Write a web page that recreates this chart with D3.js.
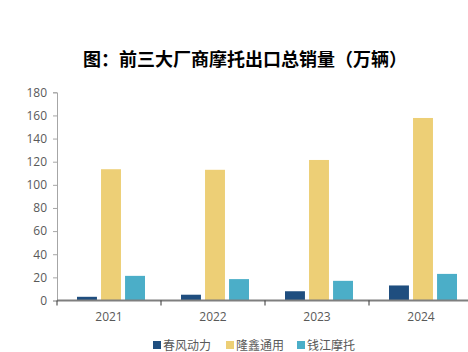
<!DOCTYPE html>
<html lang="zh">
<head>
    <meta charset="UTF-8">
    <title>前三大厂商摩托出口总销量</title>
    <script src="https://d3js.org/d3.v7.min.js"></script>
    <style>
        body { margin: 0; background: #fff; }
        text { font-family: "Noto Sans CJK SC", "Open Sans", sans-serif; }
        .title { font-size: 18px; font-weight: bold; text-anchor: middle; fill: #000; }
        .tick text { font-size: 12px; fill: #595959; font-family: "Open Sans", "Noto Sans", sans-serif; }
        .legend-label { font-size: 12px; fill: #595959; }
    </style>
</head>
<body>
<script>
    const years = ["2021", "2022", "2023", "2024"];
    const seriesNames = ["春风动力", "隆鑫通用", "钱江摩托"];
    const chunfeng = [3.2, 5, 8, 13];
    const longxin = [113.5, 113, 121.5, 157.8];
    const qianjiang = [21.3, 18.5, 17, 23];
    const yTicks = [0, 20, 40, 60, 80, 100, 120, 140, 160, 180];
    const colors = ["#1f4e7f", "#edcf76", "#4baec8"];

    const width = 468, height = 352;
    const svg = d3.select("body").append("svg")
        .attr("width", width)
        .attr("height", height);

    svg.append("text")
        .attr("class", "title")
        .attr("x", 245)
        .attr("y", 66)
        .text("图：前三大厂商摩托出口总销量（万辆）");

    const data = years.map((y, i) => ({
        year: y,
        values: [chunfeng[i], longxin[i], qianjiang[i]]
    }));

    const x = d3.scaleBand().domain(years).range([57, 473]);
    const xInner = d3.scaleBand().domain(d3.range(3)).range([20, 88]).paddingInner(0.17);
    const y = d3.scaleLinear().domain([0, 180]).range([300.5, 92.3]);

    // y axis
    const yAxis = svg.append("g")
        .attr("transform", "translate(57,0)")
        .call(d3.axisLeft(y).tickValues(yTicks).tickSize(4).tickPadding(6));
    yAxis.select(".domain").attr("stroke", "#a6a6a6");
    yAxis.selectAll(".tick line").attr("stroke", "#a6a6a6");

    // bars
    const groups = svg.selectAll(".grp")
        .data(data)
        .join("g")
        .attr("class", "grp")
        .attr("transform", d => "translate(" + x(d.year) + ",0)");

    groups.selectAll("rect")
        .data(d => d.values.map((v, j) => ({ v: v, j: j })))
        .join("rect")
        .attr("x", d => xInner(d.j))
        .attr("y", d => y(d.v))
        .attr("width", xInner.bandwidth())
        .attr("height", d => y(0) - y(d.v))
        .attr("fill", d => colors[d.j]);

    // x axis
    const xAxis = svg.append("g")
        .attr("transform", "translate(0," + y(0) + ")")
        .call(d3.axisBottom(x).tickSize(0).tickPadding(12));
    xAxis.select(".domain").remove();
    svg.append("line")
        .attr("x1", 57).attr("x2", 468)
        .attr("y1", y(0)).attr("y2", y(0))
        .attr("stroke", "#7f7f7f")
        .attr("stroke-width", 2);
    years.forEach(yr => {
        svg.append("line")
            .attr("x1", x(yr)).attr("x2", x(yr))
            .attr("y1", y(0)).attr("y2", y(0) + 5)
            .attr("stroke", "#333");
    });

    // legend
    const legendX = [153, 226, 297];
    seriesNames.forEach((name, i) => {
        svg.append("rect")
            .attr("x", legendX[i])
            .attr("y", 341)
            .attr("width", 8)
            .attr("height", 8)
            .attr("fill", colors[i]);
        svg.append("text")
            .attr("class", "legend-label")
            .attr("x", legendX[i] + 10)
            .attr("y", 349.5)
            .text(name);
    });
</script>
</body>
</html>
